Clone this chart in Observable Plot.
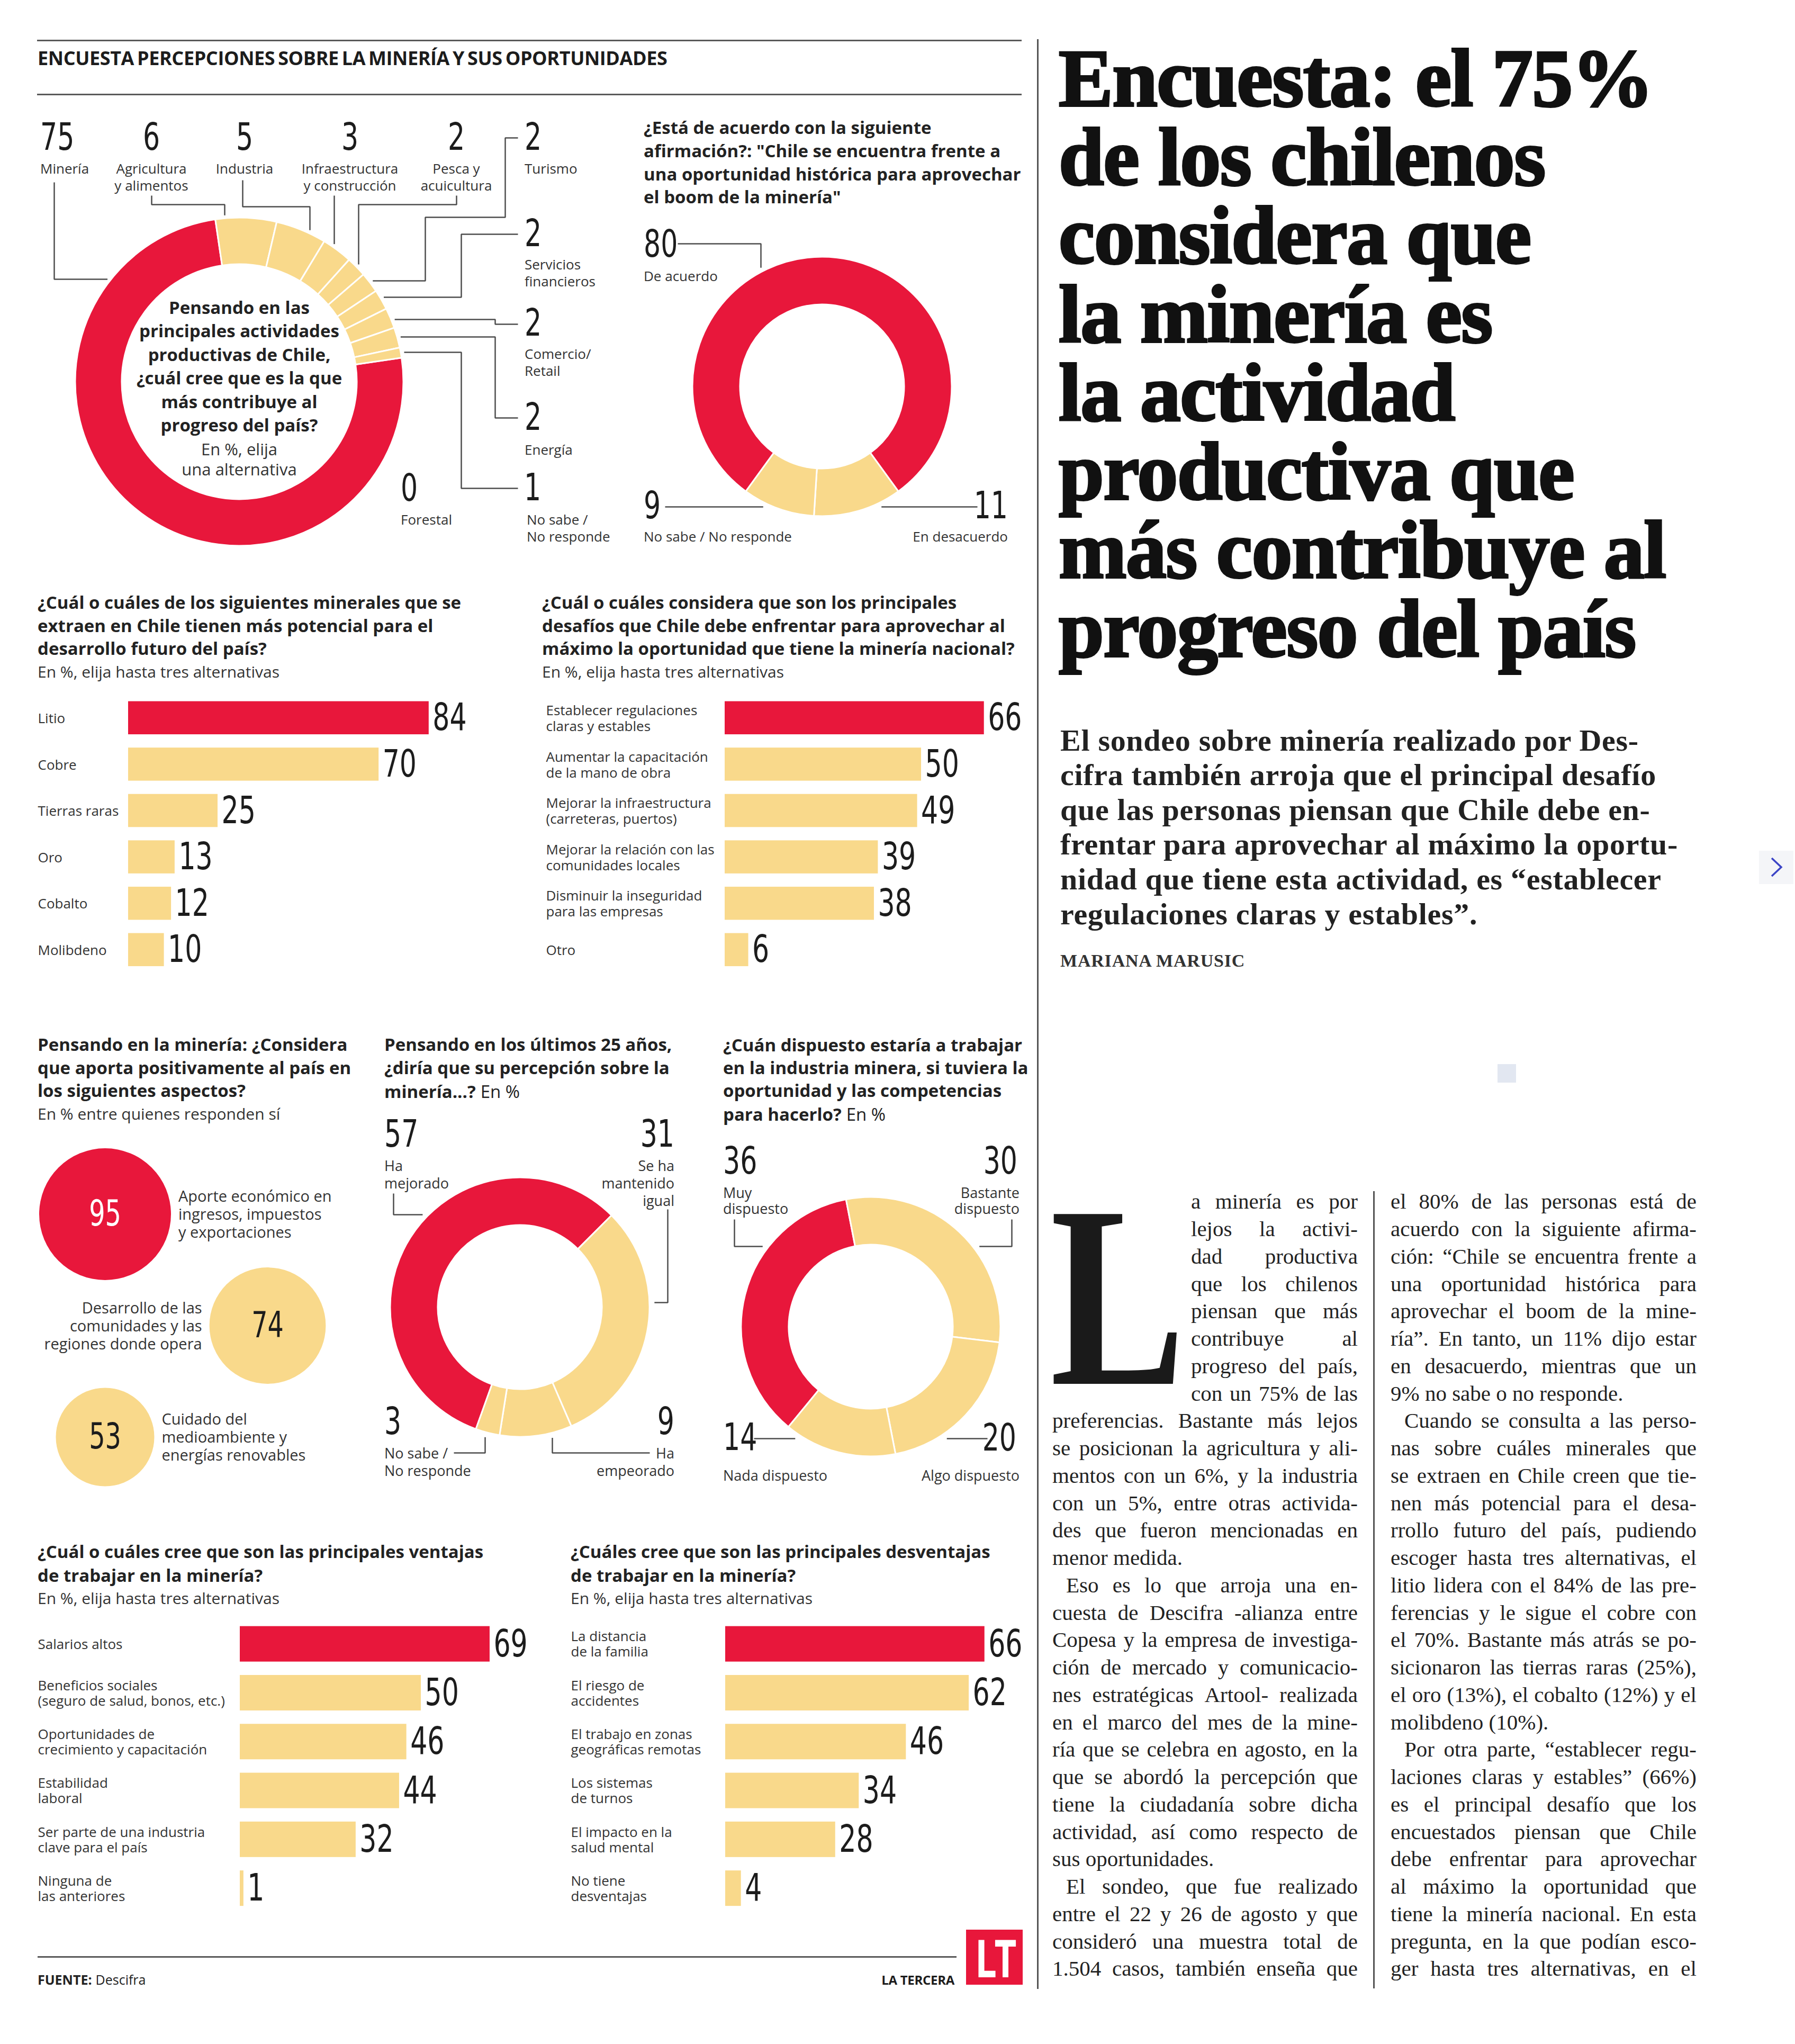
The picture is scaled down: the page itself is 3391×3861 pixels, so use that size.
<!DOCTYPE html>
<html><head><meta charset="utf-8">
<script src="https://cdn.jsdelivr.net/npm/d3@7"></script>
<script src="https://cdn.jsdelivr.net/npm/@observablehq/plot@0.6"></script>
<style>
body{margin:0;background:#fff;}
#page{position:relative;width:3391px;height:3861px;overflow:hidden;background:#fff;font-family:"Open Sans",sans-serif;color:#333;}
.t{position:absolute;white-space:pre;}
.ln{position:absolute;white-space:pre;}
.j{display:flex;justify-content:space-between;}
.drop::before{content:"L";}
</style></head><body><div id="page"></div>
<script>
// ---------------- DATA ----------------
const actividades = ["Minería","Agricultura\ny alimentos","Industria","Infraestructura\ny construcción","Pesca y\nacuicultura","Turismo","Servicios\nfinancieros","Comercio/\nRetail","Energía","Forestal","No sabe /\nNo responde"];
const actividadesPct = [75,6,5,3,2,2,2,2,2,0,1];

const acuerdo = ["De acuerdo","En desacuerdo","No sabe / No responde"];
const acuerdoPct = [80,11,9];

const minerales = ["Litio","Cobre","Tierras raras","Oro","Cobalto","Molibdeno"];
const mineralesPct = [84,70,25,13,12,10];

const desafios = ["Establecer regulaciones\nclaras y estables","Aumentar la capacitación\nde la mano de obra","Mejorar la infraestructura\n(carreteras, puertos)","Mejorar la relación con las\ncomunidades locales","Disminuir la inseguridad\npara las empresas","Otro"];
const desafiosPct = [66,50,49,39,38,6];

const aspectos = ["Aporte económico en\ningresos, impuestos\ny exportaciones","Desarrollo de las\ncomunidades y las\nregiones donde opera","Cuidado del\nmedioambiente y\nenergías renovables"];
const aspectosPct = [95,74,53];

const percepcion = ["Ha\nmejorado","Se ha\nmantenido\nigual","Ha\nempeorado","No sabe /\nNo responde"];
const percepcionPct = [57,31,9,3];

const disposicion = ["Muy\ndispuesto","Bastante\ndispuesto","Algo dispuesto","Nada dispuesto"];
const disposicionPct = [36,30,20,14];

const ventajas = ["Salarios altos","Beneficios sociales\n(seguro de salud, bonos, etc.)","Oportunidades de\ncrecimiento y capacitación","Estabilidad\nlaboral","Ser parte de una industria\nclave para el país","Ninguna de\nlas anteriores"];
const ventajasPct = [69,50,46,44,32,1];

const desventajas = ["La distancia\nde la familia","El riesgo de\naccidentes","El trabajo en zonas\ngeográficas remotas","Los sistemas\nde turnos","El impacto en la\nsalud mental","No tiene\ndesventajas"];
const desventajasPct = [66,62,46,34,28,4];

// ---------------- STYLE ----------------
const RED = "#e8173b", YEL = "#f9d98b", INK = "#1c1c1c", LEAD = "#4d4d4d";
const NUM = '"Liberation Sans Narrow","Arial Narrow","DejaVu Sans Condensed",sans-serif';
const SANS = '"Open Sans","Noto Sans",sans-serif';
const SERIF = '"Liberation Serif","DejaVu Serif",serif';
const NUMX = 0.78;
const QFS = 33;   // bold question size
const SFS = 30;   // subtitle size

const page = document.getElementById('page');

function T(text, o) {
  const d = document.createElement('div');
  d.className = 't' + (o.cls ? ' ' + o.cls : '');
  if (o.html) d.innerHTML = text; else d.textContent = text;
  const fs = o.fs, lh = o.lh || fs * 1.2, s = d.style;
  s.fontSize = fs + 'px'; s.lineHeight = lh + 'px';
  s.fontFamily = o.ff || SANS; s.fontWeight = o.fw || 400; s.color = o.color || '#333';
  if (o.ls != null) s.letterSpacing = o.ls + 'px';
  if (o.ws != null) s.wordSpacing = o.ws + 'px';
  const align = o.align || 'left';
  s.textAlign = align;
  s.left = o.x + 'px';
  const top = o.base != null ? o.base - lh / 2 - (o.bo || 0.3375) * fs : o.y - lh / 2;
  s.top = top + 'px';
  const tx = align === 'center' ? '-50%' : align === 'right' ? '-100%' : '0';
  s.transformOrigin = align === 'center' ? '50% 0' : align === 'right' ? '100% 0' : '0 0';
  s.transform = `translateX(${tx}) scaleX(${o.sx || 1})`;
  if (o.css) Object.assign(s, o.css);
  page.appendChild(d);
  return d;
}
// bold question whose last line ends with a regular "En %"
function question(lines, x, y, lh, tail) {
  const head = lines.slice(0, -1), last = lines[lines.length - 1];
  if (head.length) T(head.join("\n"), {x, y, fs: QFS, lh, fw: 700, color: '#222'});
  const yl = y + head.length * lh + 2;
  const b = T(last, {x, y: yl, fs: QFS, lh, fw: 700, color: '#222'});
  if (tail) T(tail, {x: x + b.getBoundingClientRect().width + 9, y: yl, fs: QFS, lh, color: '#222'});
}
function box(x, y, w, h, bg) {
  const d = document.createElement('div');
  Object.assign(d.style, {position:'absolute', left:x+'px', top:y+'px', width:w+'px', height:h+'px', background:bg});
  page.appendChild(d); return d;
}
function condense(svg) {
  svg.querySelectorAll('g[font-family*="Narrow"] text').forEach(t => {
    const w = t.getComputedTextLength();
    if (w > 0) { t.setAttribute('textLength', (w * NUMX).toFixed(1)); t.setAttribute('lengthAdjust', 'spacingAndGlyphs'); }
  });
}
function mount(svg, left, top) {
  svg.style.position = 'absolute'; svg.style.left = left + 'px'; svg.style.top = top + 'px';
  page.appendChild(svg); condense(svg);
}

// ---------------- BAR CHARTS ----------------
function bars(names, values, o) {
  const n = names.length, p = 1 - o.bandH / o.step, pad = 10;
  const svgLeft = o.labelX - 5;
  const svgTop = o.firstTop - (o.step - o.bandH) / 2 - pad;
  const ml = o.x0 - svgLeft, D = d3.max(values), mr = 110;
  const data = names.map((name, i) => ({name, value: values[i], fill: i === 0 ? RED : YEL}));
  const svg = Plot.plot({
    width: ml + D * o.k + mr, height: pad * 2 + n * o.step,
    marginLeft: ml, marginRight: mr, marginTop: pad, marginBottom: pad,
    style: {background: "transparent", overflow: "visible"},
    x: {domain: [0, D], range: [ml, ml + D * o.k], axis: null},
    y: {type: "band", domain: names, range: [pad, pad + n * o.step], paddingInner: p, paddingOuter: p / 2, align: 0.5, round: false, axis: null},
    color: {type: "identity"},
    marks: [
      Plot.barX(data, {x: "value", y: "name", fill: "fill", insetTop: 0, insetBottom: 0}),
      Plot.text(data, {x: 0, y: "name", text: "name", textAnchor: "start", dx: -(o.x0 - o.labelX), fontSize: o.fs, lineHeight: o.lh / o.fs, fill: "#333", fontFamily: SANS}),
      Plot.text(data, {x: "value", y: "name", text: d => String(d.value), textAnchor: "start", dx: 7, fontSize: 72, fontFamily: NUM, fill: INK})
    ]
  });
  mount(svg, svgLeft, svgTop);
}

// ---------------- DONUTS ----------------
function ringMark(names, values, g) {
  return (index, scales) => {
    const sx = scales && typeof scales.x === 'function' ? scales.x : v => v - g.L;
    const sy = scales && typeof scales.y === 'function' ? scales.y : v => v - g.T;
    const data = names.map((n, i) => ({n, v: values[i]}));
    const a0 = g.start * Math.PI / 180;
    const pie = d3.pie().sort(null).value(d => d.v).startAngle(a0).endAngle(a0 + 2 * Math.PI);
    const arc = d3.arc().innerRadius(g.rIn).outerRadius(g.rOut);
    const grp = d3.create("svg:g").attr("transform", `translate(${sx(g.cx)},${sy(g.cy)})`);
    grp.selectAll("path").data(pie(data).filter(a => a.data.v > 0)).join("path")
      .attr("d", arc).attr("fill", a => a.index === 0 ? RED : YEL)
      .attr("stroke", "#fff").attr("stroke-width", g.sep || 3).attr("stroke-linejoin", "round");
    return grp.node();
  };
}
function donut(names, values, g, leaders, labels) {
  const pts = [];
  leaders.forEach((ld, id) => {
    ld.pts.forEach(([x, y]) => pts.push({id, x, y}));
    const [px, py] = ld.pts[ld.pts.length - 1];
    const R = g.rOut + (ld.gap != null ? ld.gap : g.gap);
    let ex, ey;
    if (ld.to === 'h') { const dx = Math.sqrt(Math.max(0, R * R - (py - g.cy) ** 2)); ex = px < g.cx ? g.cx - dx : g.cx + dx; ey = py; }
    else { const dy = Math.sqrt(Math.max(0, R * R - (px - g.cx) ** 2)); ey = py < g.cy ? g.cy - dy : g.cy + dy; ex = px; }
    pts.push({id, x: ex, y: ey});
  });
  const svg = Plot.plot({
    width: g.W, height: g.H, margin: 0,
    style: {background: "transparent", overflow: "visible"},
    x: {domain: [g.L, g.L + g.W], range: [0, g.W], axis: null},
    y: {domain: [g.T, g.T + g.H], range: [0, g.H], axis: null},
    marks: [
      ringMark(names, values, g),
      Plot.line(pts, {x: "x", y: "y", z: "id", stroke: LEAD, strokeWidth: 2.5, strokeLinecap: "butt", strokeLinejoin: "miter"})
    ]
  });
  mount(svg, g.L, g.T);
  names.forEach((nm, i) => {
    const L = labels.pos[i];
    T(String(values[i]), {x: L.num[0], y: L.num[1], align: L.num[2], fs: 72, lh: 58, ff: NUM, sx: NUMX, color: INK});
    T(nm, {x: L.lab[0], y: L.lab[1], align: L.lab[2], fs: labels.fs, lh: labels.lh, color: '#333'});
  });
}

// ---------------- BUBBLES ----------------
function bubbles(names, values, g) {
  const max = d3.max(values);
  const rS = d3.scaleSqrt().domain([0, max]).range([0, g.rMax]);
  const data = names.map((name, i) => ({name, v: values[i], i, cx: g.cols[i % 2], cy: g.row0 + i * g.rowStep,
    fill: i === 0 ? RED : YEL, ink: i === 0 ? "#fff" : INK}));
  const lab = {y: "cy", text: "name", fontSize: 29, lineHeight: 34 / 29, fill: "#333", fontFamily: SANS};
  const svg = Plot.plot({
    width: g.W, height: g.H, margin: 0,
    style: {background: "transparent", overflow: "visible"},
    x: {domain: [g.L, g.L + g.W], range: [0, g.W], axis: null},
    y: {domain: [g.T, g.T + g.H], range: [0, g.H], axis: null},
    r: {type: "sqrt", domain: [0, max], range: [0, g.rMax]},
    color: {type: "identity"},
    marks: [
      Plot.dot(data, {x: "cx", y: "cy", r: "v", fill: "fill"}),
      Plot.text(data, {x: "cx", y: "cy", text: d => String(d.v), fill: "ink", fontSize: 68, fontFamily: NUM}),
      Plot.text(data.filter(d => d.i % 2 === 0), {...lab, x: d => d.cx + rS(d.v) + g.gap, textAnchor: "start"}),
      Plot.text(data.filter(d => d.i % 2 === 1), {...lab, x: d => d.cx - rS(d.v) - g.gap, textAnchor: "end"})
    ]
  });
  mount(svg, g.L, g.T);
}

// ---------------- HEADER / RULES ----------------
box(70, 75, 1860, 3, '#5a5a5a');
box(70, 177, 1860, 3, '#5a5a5a');
box(71, 3695, 1736, 3, '#5a5a5a');
box(1959, 74, 3, 3683, '#555');
box(2594, 2250, 3, 1506, '#555');
T("ENCUESTA PERCEPCIONES SOBRE LA MINERÍA Y SUS OPORTUNIDADES", {x: 71, y: 110, fs: 36, lh: 42, fw: 700, color: '#1c1c1c', ls: -0.4, ws: -3});

// ---- Donut 1: actividades
T("Pensando en las\nprincipales actividades\nproductivas de Chile,\n¿cuál cree que es la que\nmás contribuye al\nprogreso del país?",
  {x: 452, y: 581, align: 'center', fs: QFS, lh: 44.5, fw: 700, color: '#222'});
T("En %, elija\nuna alternativa", {x: 452, y: 848, align: 'center', fs: 31, lh: 38, color: '#333'});
donut(actividades, actividadesPct,
  {L: 40, T: 200, W: 1000, H: 880, cx: 452, cy: 721, rOut: 310, rIn: 222, start: 81.6, gap: 6, sep: 3},
  [
    {pts: [[102, 344], [102, 527]], to: 'h'},
    {pts: [[286, 369], [286, 386], [424, 386]], to: 'v'},
    {pts: [[458, 340], [458, 390], [585, 390]], to: 'v'},
    {pts: [[631, 369]], to: 'v'},
    {pts: [[862, 369], [862, 386], [677, 386]], to: 'v'},
    {pts: [[978, 260], [954, 260], [954, 410], [803, 410], [803, 530]], to: 'h'},
    {pts: [[978, 442], [871, 442], [871, 561]], to: 'h'},
    {pts: [[978, 612], [935, 612], [935, 603]], to: 'h'},
    {pts: [[978, 789], [935, 789], [935, 636]], to: 'h'},
    {pts: [[978, 922], [871, 922], [871, 665]], to: 'h'}
  ],
  {fs: 26, lh: 32, pos: [
    {num: [76, 258, 'left'], lab: [76, 318, 'left']},
    {num: [286, 258, 'center'], lab: [286, 318, 'center']},
    {num: [462, 258, 'center'], lab: [462, 318, 'center']},
    {num: [661, 258, 'center'], lab: [661, 318, 'center']},
    {num: [862, 258, 'center'], lab: [862, 318, 'center']},
    {num: [991, 258, 'left'], lab: [991, 318, 'left']},
    {num: [991, 440, 'left'], lab: [991, 499, 'left']},
    {num: [991, 609, 'left'], lab: [991, 668, 'left']},
    {num: [991, 787, 'left'], lab: [991, 849, 'left']},
    {num: [757, 921, 'left'], lab: [757, 981, 'left']},
    {num: [990, 920, 'left'], lab: [995, 981, 'left']}
  ]});

// ---- Donut 2: acuerdo
T("¿Está de acuerdo con la siguiente\nafirmación?: \"Chile se encuentra frente a\nuna oportunidad histórica para aprovechar\nel boom de la minería\"", {x: 1216, y: 241, fs: QFS, lh: 43.7, fw: 700, color: '#222'});
donut(acuerdo, acuerdoPct,
  {L: 1200, T: 440, W: 720, H: 560, cx: 1553, cy: 730, rOut: 245, rIn: 155, start: -144, gap: 8, sep: 3},
  [
    {pts: [[1280, 460], [1437, 460]], to: 'v'},
    {pts: [[1846, 957]], to: 'h'},
    {pts: [[1256, 957]], to: 'h'}
  ],
  {fs: 26, lh: 32, pos: [
    {num: [1216, 460, 'left'], lab: [1216, 521, 'left']},
    {num: [1904, 954, 'right'], lab: [1904, 1013, 'right']},
    {num: [1216, 954, 'left'], lab: [1216, 1013, 'left']}
  ]});

// ---- Bars: minerales / desafios
T("¿Cuál o cuáles de los siguientes minerales que se\nextraen en Chile tienen más potencial para el\ndesarrollo futuro del país?", {x: 71, y: 1138, fs: QFS, lh: 43.5, fw: 700, color: '#222'});
T("En %, elija hasta tres alternativas", {x: 71, y: 1269, fs: SFS, lh: 34, color: '#333'});
bars(minerales, mineralesPct, {labelX: 71, x0: 242, k: 6.76, firstTop: 1325, step: 87.6, bandH: 62.5, fs: 26, lh: 30});

T("¿Cuál o cuáles considera que son los principales\ndesafíos que Chile debe enfrentar para aprovechar al\nmáximo la oportunidad que tiene la minería nacional?", {x: 1024, y: 1138, fs: QFS, lh: 43.5, fw: 700, color: '#222'});
T("En %, elija hasta tres alternativas", {x: 1024, y: 1269, fs: SFS, lh: 34, color: '#333'});
bars(desafios, desafiosPct, {labelX: 1031, x0: 1369, k: 7.42, firstTop: 1325, step: 87.6, bandH: 62.5, fs: 26, lh: 30});

// ---- Bubbles: aspectos
T("Pensando en la minería: ¿Considera\nque aporta positivamente al país en\nlos siguientes aspectos?", {x: 71, y: 1973, fs: QFS, lh: 43.3, fw: 700, color: '#222'});
T("En % entre quienes responden sí", {x: 71, y: 2103.5, fs: SFS, lh: 34, color: '#333'});
bubbles(aspectos, aspectosPct, {L: 40, T: 2140, W: 680, H: 720, cols: [198, 505], row0: 2293, rowStep: 210.5, rMax: 124.5, gap: 14});

// ---- Donut 3: percepcion
question(["Pensando en los últimos 25 años,", "¿diría que su percepción sobre la", "minería...?"], 726, 1973, 43.3, "En %");
donut(percepcion, percepcionPct,
  {L: 700, T: 2200, W: 600, H: 600, cx: 982, cy: 2469, rOut: 245, rIn: 155, start: -160.2, gap: 9, sep: 3},
  [
    {pts: [[743, 2254], [743, 2294]], to: 'h'},
    {pts: [[1261, 2284], [1261, 2460]], to: 'h'},
    {pts: [[1227, 2744], [1043, 2744]], to: 'v'},
    {pts: [[857, 2744], [916, 2744]], to: 'v'}
  ],
  {fs: 27, lh: 33, pos: [
    {num: [726, 2141, 'left'], lab: [726, 2201, 'left']},
    {num: [1274, 2141, 'right'], lab: [1274, 2201, 'right']},
    {num: [1274, 2684, 'right'], lab: [1274, 2744, 'right']},
    {num: [726, 2684, 'left'], lab: [726, 2744, 'left']}
  ]});

// ---- Donut 4: disposicion
question(["¿Cuán dispuesto estaría a trabajar", "en la industria minera, si tuviera la", "oportunidad y las competencias", "para hacerlo?"], 1366, 1973, 43, "En %");
donut(disposicion, disposicionPct,
  {L: 1340, T: 2240, W: 600, H: 560, cx: 1645, cy: 2506, rOut: 245, rIn: 155, start: -140.6, gap: 10, sep: 3},
  [
    {pts: [[1387, 2303], [1387, 2354]], to: 'h'},
    {pts: [[1911, 2303], [1911, 2354]], to: 'h'},
    {pts: [[1865, 2717]], to: 'h'},
    {pts: [[1424, 2717]], to: 'h'}
  ],
  {fs: 27, lh: 30, pos: [
    {num: [1366, 2192, 'left'], lab: [1366, 2253, 'left']},
    {num: [1922, 2192, 'right'], lab: [1926, 2253, 'right']},
    {num: [1920, 2715, 'right'], lab: [1926, 2787, 'right']},
    {num: [1366, 2714, 'left'], lab: [1366, 2787, 'left']}
  ]});

// ---- Bars: ventajas / desventajas
T("¿Cuál o cuáles cree que son las principales ventajas\nde trabajar en la minería?", {x: 71, y: 2930, fs: QFS, lh: 45, fw: 700, color: '#222'});
T("En %, elija hasta tres alternativas", {x: 71, y: 3018.5, fs: SFS, lh: 34, color: '#333'});
bars(ventajas, ventajasPct, {labelX: 71, x0: 453, k: 6.84, firstTop: 3072, step: 92.3, bandH: 67, fs: 26, lh: 29});

T("¿Cuáles cree que son las principales desventajas\nde trabajar en la minería?", {x: 1078, y: 2930, fs: QFS, lh: 45, fw: 700, color: '#222'});
T("En %, elija hasta tres alternativas", {x: 1078, y: 3018.5, fs: SFS, lh: 34, color: '#333'});
bars(desventajas, desventajasPct, {labelX: 1078, x0: 1370, k: 7.42, firstTop: 3072, step: 92.3, bandH: 67, fs: 26, lh: 29});

// ---- Footer
const fu = T("FUENTE:", {x: 71, y: 3739, fs: 25, lh: 30, fw: 700, color: '#222'});
T("Descifra", {x: 71 + fu.getBoundingClientRect().width + 7, y: 3739, fs: 25, lh: 30, color: '#222'});
T("LA TERCERA", {x: 1803, y: 3740, align: 'right', fs: 24, lh: 30, fw: 700, color: '#1c1c1c', ls: -0.3});
box(1825, 3645, 107, 104, RED);
T("LT", {x: 1879, y: 3697, align: 'center', fs: 98, lh: 100, fw: 700, color: '#fff', sx: 0.74, ls: -6});

// ---------------- ARTICLE ----------------
const titular = ["Encuesta: el 75%","de los chilenos","considera que","la minería es","la actividad","productiva que","más contribuye al","progreso del país"];
T(titular.join("\n"), {x: 2000, base: 200.7, lh: 148.5, fs: 154, ff: SERIF, fw: 700, color: '#111', ls: -1.5, css: {webkitTextStroke: '4px #111'}});
const bajada = ["El sondeo sobre minería realizado por Des-","cifra también arroja que el principal desafío","que las personas piensan que Chile debe en-","frentar para aprovechar al máximo la oportu-","nidad que tiene esta actividad, es “establecer","regulaciones claras y estables”."];
T(bajada.join("\n"), {x: 2003, base: 1418, lh: 65.6, fs: 58, ff: SERIF, fw: 700, color: '#222', ls: 0.7});
T("MARIANA MARUSIC", {x: 2003, base: 1826, lh: 40, fs: 34, ff: SERIF, fw: 700, color: '#333', ls: 0.8});

const col1 = ["a minería es por","lejos la activi-","dad productiva","que los chilenos","piensan que más","contribuye al","progreso del país,","con un 75% de las","preferencias. Bastante más lejos","se posicionan la agricultura y ali-","mentos con un 6%, y la industria","con un 5%, entre otras activida-","des que fueron mencionadas en","menor medida.|","¶Eso es lo que arroja una en-","cuesta de Descifra -alianza entre","Copesa y la empresa de investiga-","ción de mercado y comunicacio-","nes estratégicas Artool- realizada","en el marco del mes de la mine-","ría que se celebra en agosto, en la","que se abordó la percepción que","tiene la ciudadanía sobre dicha","actividad, así como respecto de","sus oportunidades.|","¶El sondeo, que fue realizado","entre el 22 y 26 de agosto y que","consideró una muestra total de","1.504 casos, también enseña que"];
const col2 = ["el 80% de las personas está de","acuerdo con la siguiente afirma-","ción: “Chile se encuentra frente a","una oportunidad histórica para","aprovechar el boom de la mine-","ría”. En tanto, un 11% dijo estar","en desacuerdo, mientras que un","9% no sabe o no responde.|","¶Cuando se consulta a las perso-","nas sobre cuáles minerales que","se extraen en Chile creen que tie-","nen más potencial para el desa-","rrollo futuro del país, pudiendo","escoger hasta tres alternativas, el","litio lidera con el 84% de las pre-","ferencias y le sigue el cobre con","el 70%. Bastante más atrás se po-","sicionaron las tierras raras (25%),","el oro (13%), el cobalto (12%) y el","molibdeno (10%).|","¶Por otra parte, “establecer regu-","laciones claras y estables” (66%)","es el principal desafío que los","encuestados piensan que Chile","debe enfrentar para aprovechar","al máximo la oportunidad que","tiene la minería nacional. En esta","pregunta, en la que podían esco-","ger hasta tres alternativas, en el"];

function column(lines, x, w, base0, lh, fs, dropLines, dropIndent) {
  lines.forEach((raw, i) => {
    let s = raw, indent = 0, last = false;
    if (s.startsWith("¶")) { s = s.slice(1); indent = 26; }
    if (s.endsWith("|")) { s = s.slice(0, -1); last = true; }
    if (i < dropLines) indent = dropIndent;
    const d = document.createElement('div');
    d.className = 'ln' + (last ? '' : ' j');
    const base = base0 + i * lh;
    Object.assign(d.style, {left: (x + indent) + 'px', top: (base - lh / 2 - 0.3375 * fs) + 'px', width: (w - indent) + 'px', height: lh + 'px',
      fontFamily: SERIF, fontSize: fs + 'px', lineHeight: lh + 'px', color: '#222'});
    if (last) d.textContent = s;
    else s.split(" ").forEach(wd => { const sp = document.createElement('span'); sp.textContent = wd; d.appendChild(sp); });
    page.appendChild(d);
  });
}
column(col1, 1988, 577, 2284, 51.75, 41, 8, 262);
column(col2, 2627, 578, 2284, 51.75, 41, 0, 0);
// drop cap (initial "L" of "La minería"), drawn as a styled initial
T("", {cls: 'drop', x: 1984, base: 2614, lh: 330, fs: 490, ff: SERIF, fw: 700, color: '#1a1a1a', sx: 0.78});

// page artefacts
box(2829, 2010, 35, 35, '#e2e7f1');
box(3323, 1607, 65, 63, '#f4f5f8');
(function(){
  const ns = "http://www.w3.org/2000/svg";
  const s = document.createElementNS(ns, "svg");
  s.setAttribute("width", 65); s.setAttribute("height", 63);
  Object.assign(s.style, {position: 'absolute', left: '3323px', top: '1607px'});
  const p = document.createElementNS(ns, "polyline");
  p.setAttribute("points", "24,14 42,31 24,48"); p.setAttribute("fill", "none");
  p.setAttribute("stroke", "#3b44c6"); p.setAttribute("stroke-width", "3.5");
  s.appendChild(p); page.appendChild(s);
})();
</script></body></html>
